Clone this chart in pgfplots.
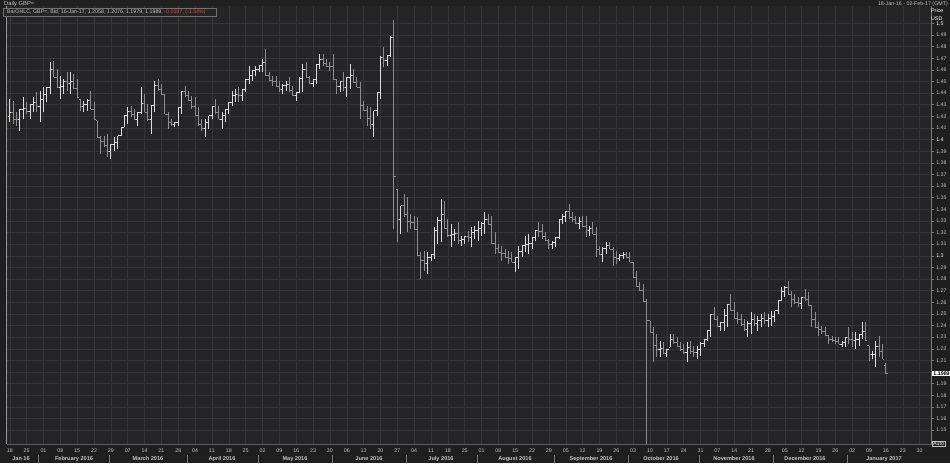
\documentclass[border=0pt]{standalone}
\usepackage{pgfplots}
\pgfplotsset{compat=1.18}
\usepackage{pgfplotstable}
\usepackage{fontspec}
\setmainfont{Liberation Sans}

\definecolor{bgout}{HTML}{1F1F1F}
\definecolor{bgplot}{HTML}{252527}
\definecolor{gridc}{HTML}{363638}
\definecolor{axc}{HTML}{7A7A7A}
\definecolor{upc}{HTML}{DCDCDC}
\definecolor{dnc}{HTML}{8E8E8E}
\definecolor{txt}{HTML}{C4C4C4}
\definecolor{redt}{HTML}{E8453C}

% open tick to the left, close tick to the right
\pgfdeclareplotmark{otick}{\pgfpathmoveto{\pgfqpoint{-1.7pt}{0pt}}\pgfpathlineto{\pgfqpoint{0pt}{0pt}}\pgfusepathqstroke}
\pgfdeclareplotmark{ctick}{\pgfpathmoveto{\pgfqpoint{0pt}{0pt}}\pgfpathlineto{\pgfqpoint{1.7pt}{0pt}}\pgfusepathqstroke}

% daily GBP= bars, i = trading day from 18-Jan-16
\pgfplotstableread{
i O H L C
0 1.4200 1.4348 1.4148 1.4234
1 1.4234 1.4334 1.4133 1.4177
2 1.4177 1.4234 1.4119 1.4169
3 1.4169 1.4262 1.4076 1.4262
4 1.4262 1.4363 1.4176 1.4270
5 1.4270 1.4320 1.4219 1.4241
6 1.4241 1.4305 1.4176 1.4299
7 1.4299 1.4363 1.4234 1.4320
8 1.4320 1.4406 1.4234 1.4284
9 1.4284 1.4420 1.4148 1.4342
10 1.4342 1.4449 1.4234 1.4385
11 1.4385 1.4449 1.4320 1.4449
12 1.4449 1.4664 1.4391 1.4607
13 1.4607 1.4678 1.4535 1.4535
14 1.4535 1.4607 1.4449 1.4449
15 1.4449 1.4549 1.4348 1.4456
16 1.4456 1.4520 1.4391 1.4499
17 1.4499 1.4578 1.4420 1.4485
18 1.4485 1.4578 1.4391 1.4499
19 1.4499 1.4564 1.4434 1.4442
20 1.4442 1.4520 1.4363 1.4363
21 1.4348 1.4348 1.4248 1.4284
22 1.4284 1.4334 1.4234 1.4298
23 1.4298 1.4348 1.4248 1.4341
24 1.4341 1.4420 1.4262 1.4262
25 1.4262 1.4320 1.4176 1.4176
26 1.4162 1.4162 1.4018 1.4018
27 1.4018 1.4033 1.3875 1.3983
28 1.3983 1.4033 1.3932 1.3947
29 1.3947 1.4047 1.3846 1.3897
30 1.3897 1.3961 1.3832 1.3961
31 1.3961 1.4018 1.3904 1.3976
32 1.3976 1.4033 1.3918 1.4033
33 1.4033 1.4105 1.4033 1.4105
34 1.4105 1.4205 1.4105 1.4205
35 1.4205 1.4277 1.4133 1.4241
36 1.4241 1.4291 1.4191 1.4219
37 1.4219 1.4262 1.4176 1.4177
38 1.4177 1.4234 1.4119 1.4234
39 1.4234 1.4449 1.4219 1.4313
40 1.4313 1.4391 1.4234 1.4234
41 1.4234 1.4305 1.4162 1.4169
42 1.4169 1.4291 1.4047 1.4291
43 1.4291 1.4506 1.4234 1.4470
44 1.4470 1.4520 1.4420 1.4434
45 1.4434 1.4477 1.4391 1.4391
46 1.4391 1.4391 1.4219 1.4219
47 1.4219 1.4234 1.4090 1.4148
48 1.4148 1.4176 1.4119 1.4127
49 1.4127 1.4148 1.4105 1.4148
50 1.4148 1.4277 1.4119 1.4277
51 1.4277 1.4420 1.4219 1.4413
52 1.4413 1.4463 1.4363 1.4377
53 1.4377 1.4420 1.4334 1.4334
54 1.4334 1.4377 1.4262 1.4284
55 1.4284 1.4363 1.4205 1.4205
56 1.4205 1.4277 1.4119 1.4126
57 1.4126 1.4176 1.4076 1.4097
58 1.4097 1.4176 1.4018 1.4148
59 1.4148 1.4205 1.4090 1.4205
60 1.4205 1.4291 1.4176 1.4284
61 1.4284 1.4348 1.4219 1.4234
62 1.4234 1.4291 1.4176 1.4176
63 1.4176 1.4234 1.4090 1.4205
64 1.4205 1.4262 1.4148 1.4262
65 1.4262 1.4320 1.4219 1.4320
66 1.4320 1.4420 1.4291 1.4377
67 1.4377 1.4434 1.4320 1.4385
68 1.4385 1.4449 1.4320 1.4384
69 1.4384 1.4434 1.4334 1.4434
70 1.4434 1.4520 1.4406 1.4520
71 1.4520 1.4635 1.4477 1.4549
72 1.4549 1.4592 1.4506 1.4592
73 1.4592 1.4635 1.4549 1.4607
74 1.4607 1.4635 1.4578 1.4635
75 1.4635 1.4693 1.4578 1.4664
76 1.4664 1.4779 1.4549 1.4549
77 1.4549 1.4578 1.4506 1.4506
78 1.4506 1.4549 1.4463 1.4499
79 1.4499 1.4549 1.4449 1.4456
80 1.4456 1.4506 1.4406 1.4434
81 1.4434 1.4477 1.4391 1.4463
82 1.4463 1.4506 1.4420 1.4471
83 1.4471 1.4535 1.4406 1.4420
84 1.4420 1.4463 1.4377 1.4377
85 1.4377 1.4406 1.4334 1.4406
86 1.4406 1.4535 1.4406 1.4528
87 1.4528 1.4650 1.4406 1.4600
88 1.4600 1.4664 1.4535 1.4535
89 1.4535 1.4550 1.4478 1.4485
90 1.4485 1.4521 1.4449 1.4521
91 1.4521 1.4650 1.4478 1.4650
92 1.4650 1.4736 1.4607 1.4686
93 1.4686 1.4736 1.4636 1.4657
94 1.4657 1.4693 1.4621 1.4629
95 1.4629 1.4664 1.4593 1.4625
96 1.4625 1.4736 1.4521 1.4521
97 1.4521 1.4521 1.4392 1.4457
98 1.4457 1.4507 1.4406 1.4500
99 1.4500 1.4578 1.4421 1.4449
100 1.4449 1.4535 1.4363 1.4535
101 1.4535 1.4650 1.4435 1.4550
102 1.4550 1.4607 1.4492 1.4492
103 1.4492 1.4535 1.4449 1.4449
104 1.4449 1.4492 1.4177 1.4292
105 1.4292 1.4335 1.4248 1.4248
106 1.4248 1.4292 1.4119 1.4184
107 1.4184 1.4277 1.4091 1.4134
108 1.4134 1.4249 1.4019 1.4249
109 1.4249 1.4406 1.4206 1.4406
110 1.4406 1.4722 1.4349 1.4708
111 1.4708 1.4794 1.4621 1.4679
112 1.4679 1.4722 1.4636 1.4722
113 1.4722 1.4894 1.4707 1.4880
114 1.4880 1.5032 1.3227 1.3680
115 1.3574 1.3574 1.3115 1.3309
116 1.3309 1.3431 1.3187 1.3431
117 1.3431 1.3531 1.3331 1.3352
118 1.3352 1.3503 1.3201 1.3295
119 1.3295 1.3359 1.3230 1.3288
120 1.3288 1.3345 1.3230 1.3230
121 1.3230 1.3331 1.2999 1.2999
122 1.2999 1.3029 1.2800 1.2958
123 1.2958 1.3043 1.2872 1.2936
124 1.2936 1.3029 1.2843 1.2986
125 1.2986 1.3014 1.2957 1.3014
126 1.3014 1.3244 1.2972 1.3216
127 1.3216 1.3331 1.3101 1.3302
128 1.3302 1.3488 1.3115 1.3352
129 1.3352 1.3474 1.3230 1.3237
130 1.3237 1.3316 1.3158 1.3173
131 1.3173 1.3273 1.3072 1.3180
132 1.3180 1.3230 1.3130 1.3195
133 1.3195 1.3288 1.3101 1.3130
134 1.3130 1.3173 1.3087 1.3137
135 1.3137 1.3173 1.3101 1.3166
136 1.3166 1.3216 1.3115 1.3158
137 1.3158 1.3244 1.3072 1.3202
138 1.3202 1.3259 1.3144 1.3216
139 1.3216 1.3302 1.3130 1.3231
140 1.3231 1.3288 1.3173 1.3281
141 1.3281 1.3374 1.3187 1.3316
142 1.3316 1.3359 1.3273 1.3273
143 1.3273 1.3345 1.3101 1.3108
144 1.3108 1.3201 1.3015 1.3065
145 1.3065 1.3101 1.3029 1.3029
146 1.3029 1.3087 1.2957 1.3022
147 1.3022 1.3058 1.2986 1.2986
148 1.2986 1.3043 1.2929 1.2980
149 1.2980 1.3029 1.2943 1.2943
150 1.2943 1.2986 1.2857 1.2986
151 1.2986 1.3087 1.2886 1.3037
152 1.3037 1.3087 1.2986 1.3087
153 1.3087 1.3173 1.3029 1.3101
154 1.3101 1.3187 1.3015 1.3108
155 1.3108 1.3158 1.3058 1.3158
156 1.3158 1.3216 1.3130 1.3216
157 1.3216 1.3288 1.3158 1.3209
158 1.3209 1.3273 1.3144 1.3166
159 1.3166 1.3202 1.3130 1.3130
160 1.3130 1.3144 1.3058 1.3094
161 1.3094 1.3130 1.3058 1.3115
162 1.3115 1.3158 1.3072 1.3158
163 1.3158 1.3316 1.3144 1.3316
164 1.3316 1.3359 1.3273 1.3338
165 1.3338 1.3388 1.3288 1.3381
166 1.3381 1.3445 1.3316 1.3331
167 1.3331 1.3374 1.3288 1.3309
168 1.3309 1.3345 1.3273 1.3281
169 1.3281 1.3331 1.3230 1.3295
170 1.3295 1.3345 1.3245 1.3252
171 1.3252 1.3345 1.3158 1.3216
172 1.3216 1.3259 1.3173 1.3238
173 1.3238 1.3288 1.3187 1.3187
174 1.3187 1.3245 1.2986 1.3051
175 1.3051 1.3087 1.3015 1.3015
176 1.3015 1.3072 1.2943 1.3065
177 1.3065 1.3115 1.3015 1.3087
178 1.3087 1.3115 1.3058 1.3058
179 1.3058 1.3072 1.2914 1.2987
180 1.2987 1.3044 1.2929 1.2980
181 1.2980 1.3015 1.2957 1.3001
182 1.3001 1.3029 1.2972 1.3008
183 1.3008 1.3029 1.2986 1.2986
184 1.2986 1.3029 1.2943 1.2943
185 1.2943 1.2943 1.2814 1.2814
186 1.2814 1.2871 1.2728 1.2735
187 1.2735 1.2771 1.2699 1.2699
188 1.2699 1.2757 1.2599 1.2610
189 1.2610 1.2628 1.1380 1.2441
190 1.2441 1.2441 1.2341 1.2341
191 1.2341 1.2384 1.2090 1.2227
192 1.2227 1.2327 1.2126 1.2198
193 1.2198 1.2269 1.2126 1.2205
194 1.2205 1.2255 1.2155 1.2162
195 1.2162 1.2197 1.2126 1.2197
196 1.2212 1.2327 1.2212 1.2284
197 1.2284 1.2327 1.2241 1.2255
198 1.2255 1.2298 1.2212 1.2219
199 1.2219 1.2255 1.2183 1.2198
200 1.2198 1.2241 1.2155 1.2169
201 1.2169 1.2255 1.2083 1.2212
202 1.2212 1.2269 1.2155 1.2176
203 1.2176 1.2226 1.2126 1.2169
204 1.2169 1.2226 1.2111 1.2198
205 1.2198 1.2255 1.2140 1.2248
206 1.2248 1.2284 1.2212 1.2284
207 1.2284 1.2355 1.2269 1.2355
208 1.2355 1.2499 1.2298 1.2499
209 1.2499 1.2556 1.2456 1.2456
210 1.2456 1.2484 1.2384 1.2391
211 1.2391 1.2427 1.2355 1.2427
212 1.2427 1.2542 1.2355 1.2485
213 1.2485 1.2585 1.2384 1.2585
214 1.2585 1.2671 1.2527 1.2528
215 1.2528 1.2599 1.2456 1.2463
216 1.2463 1.2513 1.2413 1.2449
217 1.2449 1.2499 1.2399 1.2406
218 1.2406 1.2456 1.2355 1.2370
219 1.2370 1.2441 1.2298 1.2420
220 1.2420 1.2513 1.2327 1.2449
221 1.2449 1.2499 1.2399 1.2420
222 1.2420 1.2484 1.2355 1.2442
223 1.2442 1.2499 1.2384 1.2463
224 1.2463 1.2513 1.2413 1.2442
225 1.2442 1.2499 1.2384 1.2463
226 1.2463 1.2527 1.2399 1.2477
227 1.2477 1.2527 1.2427 1.2527
228 1.2527 1.2613 1.2499 1.2613
229 1.2613 1.2728 1.2613 1.2692
230 1.2692 1.2742 1.2642 1.2728
231 1.2728 1.2785 1.2671 1.2671
232 1.2671 1.2699 1.2556 1.2628
233 1.2628 1.2671 1.2585 1.2599
234 1.2599 1.2642 1.2556 1.2592
235 1.2592 1.2642 1.2542 1.2642
236 1.2642 1.2714 1.2613 1.2628
237 1.2628 1.2685 1.2570 1.2570
238 1.2570 1.2570 1.2384 1.2449
239 1.2449 1.2513 1.2384 1.2384
240 1.2384 1.2427 1.2312 1.2363
241 1.2363 1.2398 1.2327 1.2348
242 1.2348 1.2384 1.2312 1.2312
243 1.2312 1.2312 1.2241 1.2284
244 1.2284 1.2312 1.2255 1.2270
245 1.2270 1.2298 1.2241 1.2265
246 1.2265 1.2298 1.2241 1.2241
247 1.2241 1.2269 1.2212 1.2255
248 1.2255 1.2298 1.2212 1.2298
249 1.2298 1.2384 1.2241 1.2277
250 1.2277 1.2341 1.2212 1.2269
251 1.2269 1.2341 1.2197 1.2277
252 1.2277 1.2327 1.2226 1.2327
253 1.2327 1.2427 1.2284 1.2348
254 1.2348 1.2427 1.2269 1.2269
255 1.2226 1.2226 1.2097 1.2147
256 1.2147 1.2183 1.2111 1.2155
257 1.2155 1.2269 1.2040 1.2219
258 1.2219 1.2312 1.2126 1.2176
259 1.2176 1.2241 1.2111 1.2111
260 1.2058 1.2076 1.1979 1.1989
}\gbp

\begin{document}
\begin{tikzpicture}[x=1pt,y=1pt]
\useasboundingbox (0,0) rectangle (950,463);
\fill[bgout] (0,0) rectangle (950,463);

\begin{axis}[
  at={(2,16)}, anchor=south west,
  width=925pt, height=438pt, scale only axis,
  xmin=-0.9, xmax=273.6, ymin=1.1377, ymax=1.5146,
  clip=false,
  axis background/.style={fill=bgplot},
  axis x line*=bottom, axis y line*=right,
  x axis line style={-, draw=gridc!80!white, line width=0.6pt},
  y axis line style={-, draw=axc, line width=0.6pt},
  xtick={0,5,...,270},
  xticklabels={18,25,01,08,15,22,29,07,14,21,28,04,11,18,25,02,09,16,23,30,06,13,20,27,04,11,18,25,01,08,15,22,29,05,12,19,26,03,10,17,24,31,07,14,21,28,05,12,19,26,02,09,16,23,30},
  ytick={1.15,1.16,1.17,1.18,1.19,1.2,1.21,1.22,1.23,1.24,1.25,1.26,1.27,1.28,1.29,1.3,1.31,1.32,1.33,1.34,1.35,1.36,1.37,1.38,1.39,1.4,1.41,1.42,1.43,1.44,1.45,1.46,1.47,1.48,1.49,1.5},
  yticklabels={1.15,1.16,1.17,1.18,1.19,{},1.21,1.22,1.23,1.24,1.25,1.26,1.27,1.28,1.29,\textcolor{white}{1.3},1.31,1.32,1.33,1.34,1.35,1.36,1.37,1.38,1.39,\textcolor{white}{1.4},1.41,1.42,1.43,1.44,1.45,1.46,1.47,1.48,1.49,\textcolor{white}{1.5}},
  grid=major, major grid style={draw=gridc, line width=0.5pt},
  tick label style={font=\fontsize{5.3}{6}\selectfont, text=txt},
  xtick style={draw=none},
  ytick style={draw=axc, line width=0.5pt},
  tick align=outside, major tick length=2pt,
  xticklabel style={anchor=center, yshift=-4.5pt},
  yticklabel style={anchor=west, xshift=-1pt},
]
% left border
\draw[upc!70!black, line width=0.8pt] (rel axis cs:0,0) -- (rel axis cs:0,1);

% down bars
\addplot[draw=none, mark=none, forget plot, error bars/.cd, y dir=plus, y explicit, error mark=none,
  error bar style={draw=dnc, line width=0.9pt}]
  table[x=i, y expr={\thisrow{C}<\thisrow{O} ? \thisrow{L} : nan}, y error plus expr={\thisrow{H}-\thisrow{L}}] {\gbp};
\addplot[dnc, only marks, mark=otick, line width=0.9pt, forget plot]
  table[x=i, y expr={\thisrow{C}<\thisrow{O} ? \thisrow{O} : nan}] {\gbp};
\addplot[dnc, only marks, mark=ctick, line width=0.9pt, forget plot]
  table[x=i, y expr={\thisrow{C}<\thisrow{O} ? \thisrow{C} : nan}] {\gbp};

% up bars
\addplot[draw=none, mark=none, forget plot, error bars/.cd, y dir=plus, y explicit, error mark=none,
  error bar style={draw=upc, line width=0.9pt}]
  table[x=i, y expr={\thisrow{C}<\thisrow{O} ? nan : \thisrow{L}}, y error plus expr={\thisrow{H}-\thisrow{L}}] {\gbp};
\addplot[upc, only marks, mark=otick, line width=0.9pt, forget plot]
  table[x=i, y expr={\thisrow{C}<\thisrow{O} ? nan : \thisrow{O}}] {\gbp};
\addplot[upc, only marks, mark=ctick, line width=0.9pt, forget plot]
  table[x=i, y expr={\thisrow{C}<\thisrow{O} ? nan : \thisrow{C}}] {\gbp};

% last price marker
\node[fill=white, text=black, inner sep=0.6pt, anchor=west, font=\fontsize{5.3}{6}\selectfont\bfseries]
  at (axis cs:273.6,1.1989) {\,1.1989\,};
\end{axis}

% header
\node[anchor=west, text=txt, inner sep=0, font=\fontsize{5.8}{6}\selectfont] at (4,458.7) {Daily GBP=};
\node[anchor=east, text=txt, inner sep=0, font=\fontsize{5.3}{6}\selectfont] at (948,458.7) {18-Jan-16 - 02-Feb-17 (GMT)};
\draw[gridc!70!white, fill=bgplot, line width=0.5pt] (3,454.5) rectangle (216,446.3);
\node[anchor=west, text=txt, inner sep=0, font=\fontsize{5.3}{6}\selectfont] at (7,450.4)
  {BarOHLC, GBP=, Bid, 16-Jan-17, 1.2058, 1.2076, 1.1979, 1.1989, \textcolor{redt}{-0.0187, (-1.54\%)}};
\node[anchor=west, text=white, inner sep=0, font=\fontsize{5.3}{6}\selectfont] at (931,452) {Price};
\node[anchor=west, text=white, inner sep=0, font=\fontsize{5.3}{6}\selectfont] at (931,444.5) {USD};
\node[draw=txt, text=white, inner sep=0.8pt, line width=0.4pt, font=\fontsize{5.3}{6}\selectfont] at (938.5,19.5) {Auto};

% month row
\foreach \mx in {38.7,109.5,187,257.8,331.9,406,476.8,554.3,628.5,699.2,773.4,847.5}
  \draw[axc, line width=0.6pt] (\mx,0) -- (\mx,8);
\foreach \mx/\mlab in {21/Jan 16,74/February 2016,148/March 2016,222/April 2016,295/May 2016,369/June 2016,441/July 2016,515/August 2016,591/September 2016,661/October 2016,734/November 2016,805/December 2016,884/January 2017}
  \node[text=txt, inner sep=0, font=\fontsize{5.6}{6}\selectfont\bfseries] at (\mx,4.3) {\mlab};
\end{tikzpicture}
\end{document}
